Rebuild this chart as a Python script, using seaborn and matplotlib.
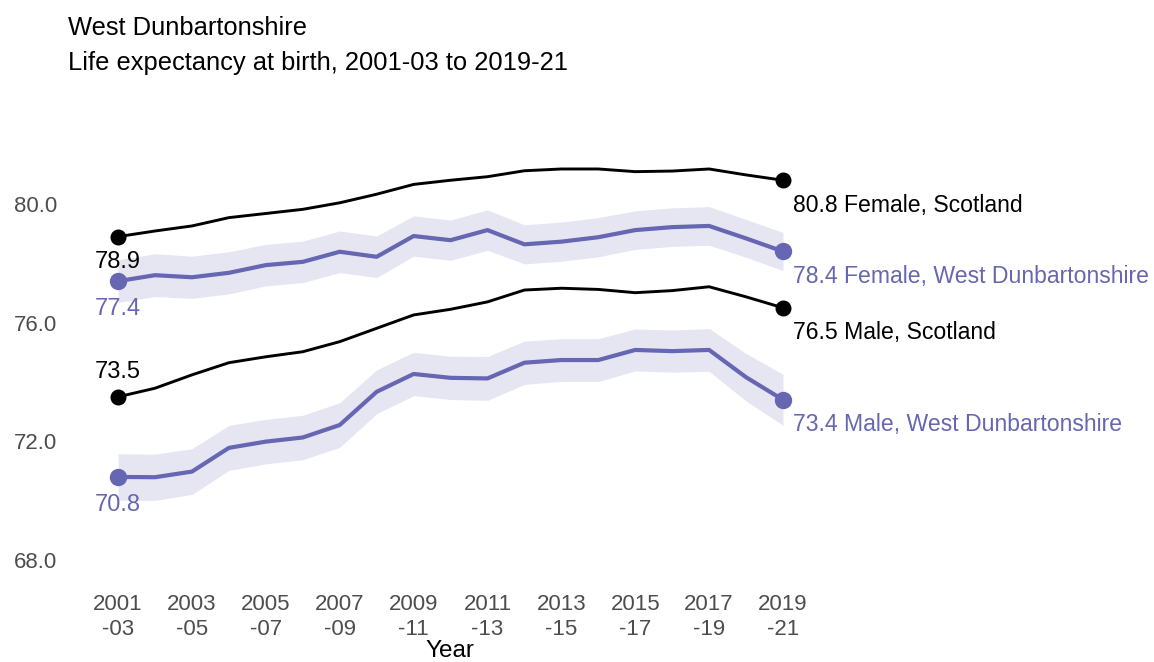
import matplotlib
matplotlib.use("Agg")
import matplotlib.pyplot as plt
import pandas as pd
import seaborn as sns

# Data
years = list(range(2001, 2020))
period_labels = [f"{y}\n-{str(y + 2)[-2:]}" for y in years]

female_scotland = [78.9, 79.09, 79.26, 79.54, 79.68, 79.82, 80.04, 80.33, 80.66, 80.8,
                   80.92, 81.12, 81.18, 81.18, 81.09, 81.11, 81.18, 80.98, 80.8]
male_scotland = [73.5, 73.79, 74.24, 74.65, 74.85, 75.02, 75.36, 75.81, 76.26, 76.45,
                 76.7, 77.1, 77.16, 77.12, 77.01, 77.08, 77.21, 76.87, 76.5]
female_wd = [77.4, 77.6, 77.53, 77.68, 77.94, 78.05, 78.39, 78.22, 78.92, 78.78,
             79.12, 78.64, 78.73, 78.88, 79.12, 79.22, 79.26, 78.84, 78.4]
male_wd = [70.8, 70.79, 70.98, 71.78, 71.99, 72.13, 72.55, 73.67, 74.27, 74.14,
           74.12, 74.65, 74.74, 74.74, 75.08, 75.04, 75.08, 74.16, 73.4]
# half-width of the confidence band for West Dunbartonshire
female_wd_ci = [0.72, 0.72, 0.71, 0.71, 0.7, 0.7, 0.7, 0.7, 0.68, 0.68,
                0.68, 0.66, 0.66, 0.66, 0.65, 0.65, 0.65, 0.64, 0.64]
male_wd_ci = [0.78, 0.78, 0.77, 0.76, 0.75, 0.75, 0.75, 0.74, 0.73, 0.73,
              0.74, 0.73, 0.72, 0.72, 0.71, 0.71, 0.72, 0.8, 0.86]

series = {
    "Female, Scotland": female_scotland,
    "Female, West Dunbartonshire": female_wd,
    "Male, Scotland": male_scotland,
    "Male, West Dunbartonshire": male_wd,
}
start_offsets = {  # pixel offset of the first-year label (positive = below)
    "Female, Scotland": 25,
    "Female, West Dunbartonshire": 28,
    "Male, Scotland": -25,
    "Male, West Dunbartonshire": 28,
}

BLUE = "#6666b2"
BAND = "#e6e6f2"
colors = {k: ("black" if "Scotland" in k and "West" not in k else BLUE) for k in series}

df = pd.DataFrame([
    {"year": y, "value": v, "series": name}
    for name, vals in series.items() for y, v in zip(years, vals)
])

sns.set_style("white")
plt.rcParams["font.family"] = ["Liberation Sans", "DejaVu Sans"]

fig = plt.figure(figsize=(11.54, 6.62), dpi=100)
ax = fig.add_axes([100 / 1154, 1 - 575 / 662, 700 / 1154, 445 / 662])

ax.fill_between(years, [v - c for v, c in zip(female_wd, female_wd_ci)],
                [v + c for v, c in zip(female_wd, female_wd_ci)], color=BAND, lw=0)
ax.fill_between(years, [v - c for v, c in zip(male_wd, male_wd_ci)],
                [v + c for v, c in zip(male_wd, male_wd_ci)], color=BAND, lw=0)

for name in series:
    sub = df[df["series"] == name]
    lw = 2.1 if colors[name] == "black" else 3.0
    sns.lineplot(data=sub, x="year", y="value", color=colors[name], lw=lw, ax=ax)
    first, last = sub.iloc[0], sub.iloc[-1]
    ms = 10.5 if colors[name] == "black" else 11.5
    ax.plot([first["year"], last["year"]], [first["value"], last["value"]], "o",
            color=colors[name], ms=ms, zorder=5, clip_on=False)
    off = start_offsets[name]
    ax.annotate(f"{first['value']:.1f}", (first["year"], first["value"]),
                xytext=(0, -off * 0.72), textcoords="offset points",
                ha="center", va="center", fontsize=17, color=colors[name])
    ax.annotate(f"{last['value']:.1f} {name}", (last["year"], last["value"]),
                xytext=(7, -25 * 0.72), textcoords="offset points",
                ha="left", va="center", fontsize=16.6, color=colors[name],
                annotation_clip=False)

ax.set_xlim(2000.51, 2019.46)
ax.set_ylim(67.494, 82.494)
ax.set_xticks(years[::2])
ax.set_xticklabels(period_labels[::2], fontsize=16, color="#4d4d4d", linespacing=1.25)
ax.set_yticks([68, 72, 76, 80])
ax.set_yticklabels(["68.0", "72.0", "76.0", "80.0"], fontsize=16, color="#4d4d4d")
ax.tick_params(axis="x", length=0, pad=14)
ax.tick_params(axis="y", length=0, pad=31)
ax.set_xlabel("Year", fontsize=17.5, labelpad=0, color="black")
ax.set_ylabel("")
sns.despine(ax=ax, left=True, bottom=True)

fig.text(68 / 1154, 1 - 28 / 662, "West Dunbartonshire", fontsize=18.4,
         va="center", color="black")
fig.text(68 / 1154, 1 - 63 / 662, "Life expectancy at birth, 2001-03 to 2019-21",
         fontsize=18.4, va="center", color="black")

fig.savefig("out.png", dpi=100)
